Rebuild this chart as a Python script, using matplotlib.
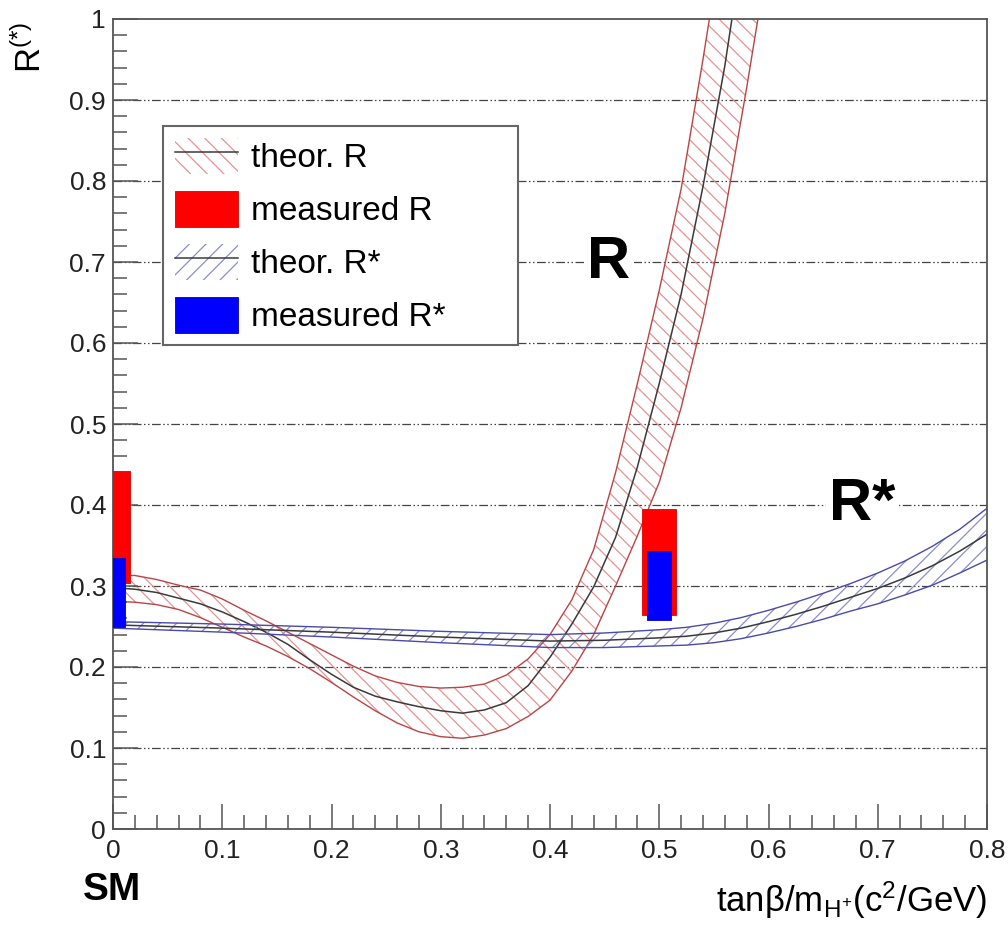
import matplotlib
matplotlib.use("Agg")
import matplotlib.pyplot as plt
from matplotlib.ticker import MultipleLocator, FixedLocator, FixedFormatter

plt.rcParams['font.family'] = ['Liberation Sans', 'DejaVu Sans']
plt.rcParams['mathtext.fontset'] = 'custom'
plt.rcParams['mathtext.rm'] = 'Liberation Sans'
plt.rcParams['mathtext.it'] = 'Liberation Sans:italic'
plt.rcParams['hatch.linewidth'] = 0.9

# --- theoretical R (2HDM type II) : central curve and band edges ---
r_x = [0.0, 0.02, 0.04, 0.06, 0.08, 0.10, 0.12, 0.14, 0.16, 0.18, 0.20, 0.22, 0.24,
       0.26, 0.28, 0.30, 0.32, 0.34, 0.36, 0.38, 0.40, 0.42, 0.44, 0.46, 0.48, 0.50,
       0.52, 0.54, 0.56, 0.58]
r_c = [0.298, 0.296, 0.292, 0.285, 0.278, 0.268, 0.256, 0.243, 0.228, 0.209, 0.191,
       0.175, 0.164, 0.157, 0.151, 0.146, 0.143, 0.147, 0.156, 0.177, 0.212, 0.253,
       0.299, 0.36, 0.447, 0.55, 0.66, 0.793, 0.942, 1.12]

r_hi_x = [0.0, 0.02, 0.04, 0.06, 0.08, 0.10, 0.12, 0.14, 0.16, 0.18, 0.20, 0.22, 0.24,
          0.26, 0.28, 0.30, 0.32, 0.34, 0.36, 0.38, 0.40, 0.42, 0.44, 0.46, 0.48, 0.50,
          0.52, 0.54, 0.56]
r_hi_y = [0.313, 0.313, 0.308, 0.301, 0.295, 0.284, 0.270, 0.257, 0.243, 0.229, 0.215,
          0.201, 0.189, 0.181, 0.176, 0.174, 0.175, 0.179, 0.190, 0.210, 0.240, 0.283,
          0.345, 0.44, 0.55, 0.665, 0.79, 0.95, 1.12]

r_lo_x = [0.0, 0.02, 0.04, 0.06, 0.08, 0.10, 0.12, 0.14, 0.16, 0.18, 0.20, 0.22, 0.24,
          0.26, 0.28, 0.30, 0.32, 0.34, 0.36, 0.38, 0.40, 0.42, 0.44, 0.46, 0.48, 0.50,
          0.52, 0.54, 0.56, 0.58, 0.60]
r_lo_y = [0.281, 0.280, 0.277, 0.271, 0.261, 0.249, 0.237, 0.226, 0.213, 0.198, 0.181,
          0.163, 0.146, 0.131, 0.120, 0.114, 0.112, 0.116, 0.124, 0.139, 0.159, 0.195,
          0.240, 0.30, 0.362, 0.428, 0.52, 0.63, 0.76, 0.915, 1.08]

# --- theoretical R* : central curve and half width of the band ---
rs_x = [0.0, 0.1, 0.2, 0.3, 0.4, 0.45, 0.5, 0.525, 0.55, 0.575, 0.6, 0.625, 0.65,
        0.675, 0.7, 0.725, 0.75, 0.775, 0.8]
rs_c = [0.252, 0.248, 0.243, 0.237, 0.232, 0.233, 0.236, 0.238, 0.242, 0.248, 0.256,
        0.265, 0.275, 0.286, 0.297, 0.310, 0.325, 0.343, 0.364]
rs_err = [0.004, 0.005, 0.006, 0.007, 0.008, 0.009, 0.010, 0.011, 0.012, 0.013, 0.014,
          0.015, 0.016, 0.017, 0.019, 0.021, 0.024, 0.027, 0.032]

# --- measurements (drawn at SM point and at tanb/mH = 0.5) ---
meas_x = [0.0, 0.5]
meas_r_lo = [0.304, 0.264]
meas_r_hi = [0.442, 0.395]
meas_rs_lo = [0.250, 0.258]
meas_rs_hi = [0.334, 0.343]

x_ticks = [0, 0.1, 0.2, 0.3, 0.4, 0.5, 0.6, 0.7, 0.8]
x_ticklabels = ['0', '0.1', '0.2', '0.3', '0.4', '0.5', '0.6', '0.7', '0.8']
y_ticks = [0, 0.1, 0.2, 0.3, 0.4, 0.5, 0.6, 0.7, 0.8, 0.9, 1.0]
y_ticklabels = ['0', '0.1', '0.2', '0.3', '0.4', '0.5', '0.6', '0.7', '0.8', '0.9', '1']

W, H = 1008, 930
fig = plt.figure(figsize=(W / 100, H / 100), dpi=100)
ax = fig.add_axes([113 / W, 1 - 829 / H, (987 - 113) / W, (829 - 19) / H])
ax.set_xlim(0, 0.8)
ax.set_ylim(0, 1)

frame_col = '#555555'
for s in ax.spines.values():
    s.set_color(frame_col)
    s.set_linewidth(1.3)

# horizontal grid (dash-dot-dot)
for yv in y_ticks[1:-1]:
    ax.axhline(yv, color='#444444', lw=0.9, ls=(0, (7, 2, 1.2, 2, 1.2, 2)), zorder=0.5)

# R band
red_hatch = '#e39393'
red_edge = '#b84545'
poly_x = r_hi_x + r_lo_x[::-1]
poly_y = r_hi_y + r_lo_y[::-1]
r_band = ax.fill(poly_x, poly_y, facecolor='none', edgecolor=red_hatch, lw=0,
                 hatch='\\\\', zorder=1)[0]
ax.plot(r_hi_x, r_hi_y, color=red_edge, lw=1.0, zorder=1.2)
ax.plot(r_lo_x, r_lo_y, color=red_edge, lw=1.0, zorder=1.2)
r_line, = ax.plot(r_x, r_c, color='#3a3a3a', lw=1.1, zorder=1.3)

# R* band
blue_hatch = '#8c8cd0'
blue_edge = '#4a4aa8'
rs_hi = [c + e for c, e in zip(rs_c, rs_err)]
rs_lo = [c - e for c, e in zip(rs_c, rs_err)]
rs_band = ax.fill(rs_x + rs_x[::-1], rs_hi + rs_lo[::-1], facecolor='none',
                  edgecolor=blue_hatch, lw=0, hatch='//', zorder=2)[0]
ax.plot(rs_x, rs_hi, color=blue_edge, lw=1.0, zorder=2.2)
ax.plot(rs_x, rs_lo, color=blue_edge, lw=1.0, zorder=2.2)
rs_line, = ax.plot(rs_x, rs_c, color='#3a3a3a', lw=1.1, zorder=2.3)

# measured values
r_h = [h - l for h, l in zip(meas_r_hi, meas_r_lo)]
rs_h = [h - l for h, l in zip(meas_rs_hi, meas_rs_lo)]
bars_r = ax.bar(meas_x, r_h, bottom=meas_r_lo, width=0.031, color='#ff0000',
                edgecolor='#dd0000', lw=0.6, zorder=3)
bars_rs = ax.bar(meas_x, rs_h, bottom=meas_rs_lo, width=0.022, color='#0000ff',
                 edgecolor='#0000cc', lw=0.6, zorder=3.5)

# ticks
ax.xaxis.set_major_locator(FixedLocator(x_ticks))
ax.xaxis.set_major_formatter(FixedFormatter(x_ticklabels))
ax.yaxis.set_major_locator(FixedLocator(y_ticks))
ax.yaxis.set_major_formatter(FixedFormatter(y_ticklabels))
ax.xaxis.set_minor_locator(MultipleLocator(0.02))
ax.yaxis.set_minor_locator(MultipleLocator(0.02))
ax.tick_params(which='both', direction='in', top=False, right=False,
               color=frame_col, width=1.1, labelsize=19, labelcolor='#222222')
ax.tick_params(which='major', length=18)
ax.tick_params(which='minor', length=10)
ax.tick_params(axis='x', pad=7)
ax.tick_params(axis='y', pad=5)

# curve labels
ax.text(0.454, 0.70, 'R', fontsize=43, fontweight='bold', ha='center', va='center',
        bbox=dict(facecolor='white', edgecolor='none', pad=2), zorder=4)
ax.text(0.686, 0.40, 'R*', fontsize=43, fontweight='bold', ha='center', va='center',
        bbox=dict(facecolor='white', edgecolor='none', pad=2), zorder=4)

# axis titles
fig.text(30 / W, 1 - 47 / H, r'R$^{\mathregular{(*)}}$', fontsize=25, rotation=90,
         ha='center', va='center')
fig.text(987 / W, 1 - 900 / H,
         r'tanβ/m$_{\mathregular{H^{+}}}$(c$^{\mathregular{2}}$/GeV)',
         fontsize=25, ha='right', va='center')
fig.text(112 / W, 1 - 890 / H, 'SM', fontsize=28, fontweight='bold',
         ha='center', va='center')

# legend
leg = ax.legend([(r_band, r_line), bars_r, (rs_band, rs_line), bars_rs],
                ['theor. R', 'measured R', 'theor. R*', 'measured R*'],
                loc='upper left',
                bbox_to_anchor=(163 / W, 1 - 367 / H, (518 - 163) / W, (367 - 126) / H),
                bbox_transform=fig.transFigure, mode='expand', borderaxespad=0,
                fontsize=24, handlelength=1.9, handleheight=1.3, handletextpad=0.4,
                labelspacing=0.5, borderpad=0.35, fancybox=False, framealpha=1,
                edgecolor='#666666')
leg.get_frame().set_linewidth(1.5)
leg.set_zorder(5)

fig.savefig('out.png', dpi=100)
